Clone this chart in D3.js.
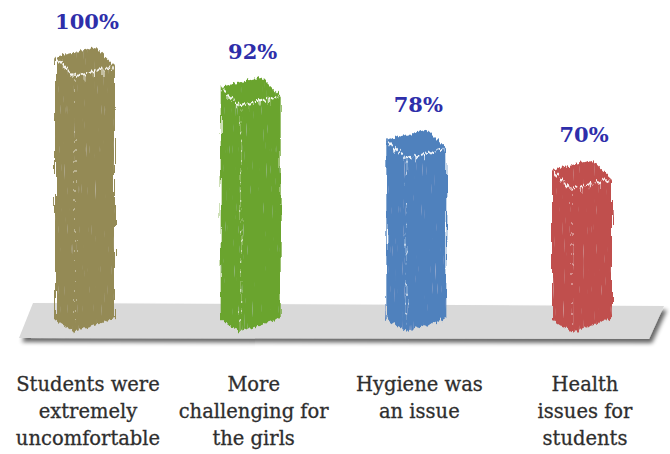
<!DOCTYPE html>
<html>
<head>
<meta charset="utf-8">
<script src="https://cdn.jsdelivr.net/npm/d3@7/dist/d3.min.js"></script>
<style>
  html, body { margin: 0; padding: 0; background: #fff; }
  svg { display: block; }
</style>
</head>
<body>
<div id="chart"></div>
<script>
// Survey responses shown as sketch-style 3D columns standing on a grey floor
const categories = [
  "Students were extremely uncomfortable",
  "More challenging for the girls",
  "Hygiene was an issue",
  "Health issues for students"
];
const categoryLines = [
  ["Students were", "extremely", "uncomfortable"],
  ["More", "challenging for", "the girls"],
  ["Hygiene was", "an issue"],
  ["Health", "issues for", "students"]
];
const values = [100, 92, 78, 70];
const valueLabels = ["100%", "92%", "78%", "70%"];
const palette = ["#948a54", "#6aa42e", "#4f81bd", "#c0504d"];

const W = 670, H = 454;
const svg = d3.select("#chart").append("svg")
  .attr("width", W).attr("height", H);

const defs = svg.append("defs");

// rough, streaky crayon look for the columns
const sketch = defs.append("filter").attr("id", "sketch")
  .attr("x", "-20%").attr("y", "-20%").attr("width", "140%").attr("height", "140%");
sketch.append("feTurbulence").attr("type", "fractalNoise")
  .attr("baseFrequency", "0.45 0.035").attr("numOctaves", 2).attr("seed", 7).attr("result", "noise");
sketch.append("feDisplacementMap").attr("in", "SourceGraphic").attr("in2", "noise")
  .attr("scale", 7).attr("xChannelSelector", "R").attr("yChannelSelector", "G").attr("result", "rough");
sketch.append("feTurbulence").attr("type", "fractalNoise")
  .attr("baseFrequency", "0.9 0.05").attr("numOctaves", 1).attr("seed", 2).attr("result", "grain");
sketch.append("feColorMatrix").attr("in", "grain").attr("type", "matrix")
  .attr("values", "0 0 0 0 1  0 0 0 0 1  0 0 0 0 1  0 0 0 1.3 -0.88").attr("result", "streaks");
sketch.append("feComposite").attr("in", "streaks").attr("in2", "rough").attr("operator", "in").attr("result", "streaksIn");
const merge = sketch.append("feMerge");
merge.append("feMergeNode").attr("in", "rough");
merge.append("feMergeNode").attr("in", "streaksIn");

// soft drop shadow under the floor
const shadow = defs.append("filter").attr("id", "floorShadow")
  .attr("x", "-10%").attr("y", "-30%").attr("width", "120%").attr("height", "180%");
shadow.append("feGaussianBlur").attr("in", "SourceAlpha").attr("stdDeviation", 2).attr("result", "b");
shadow.append("feOffset").attr("in", "b").attr("dx", 3).attr("dy", 4).attr("result", "o");
shadow.append("feComponentTransfer").attr("in", "o").attr("result", "s")
  .append("feFuncA").attr("type", "linear").attr("slope", 0.6);
const sm = shadow.append("feMerge");
sm.append("feMergeNode").attr("in", "s");
sm.append("feMergeNode").attr("in", "SourceGraphic");

// scales: x gives the front vertical edge of each column, y its top
const baseY = 332;
const x = d3.scalePoint().domain(categories).range([75, 572]);
const y = d3.scaleLinear().domain([32, 100]).range([baseY, 76]);

// box depth offsets (left face and right face)
const L = [-20, -19], R = [40, -10];

// floor slab
const floorTop = 303, floorBottom = 338;
svg.append("polygon")
  .attr("points", [[33, floorTop], [664, floorTop + 3], [649, floorBottom + 1], [19, floorBottom]].map(p => p.join(",")).join(" "))
  .attr("fill", "#d9d9d9")
  .attr("filter", "url(#floorShadow)");

const pts = a => a.map(p => p.join(",")).join(" ");
const drip = [3, 6, 2, 5, 4, 7, 3];

const bars = svg.append("g").selectAll("g.bar")
  .data(values)
  .join("g")
  .attr("class", "bar")
  .attr("filter", "url(#sketch)");

bars.each(function (v, i) {
  const g = d3.select(this);
  const fx = x(categories[i]);
  const ty = y(v);
  const col = d3.color(palette[i]).formatHex();
  const left = [[fx + L[0], baseY + L[1] + 6], [fx, baseY], [fx, ty], [fx + L[0], ty + L[1]]];
  const right = [[fx, baseY], [fx + R[0], baseY + R[1] - 4], [fx + R[0], ty + R[1]], [fx, ty]];
  const top = [[fx, ty], [fx + L[0], ty + L[1]], [fx + L[0] + R[0], ty + L[1] + R[1]], [fx + R[0], ty + R[1]]];
  g.append("polygon").attr("points", pts(left)).attr("fill", col);
  g.append("polygon").attr("points", pts(right)).attr("fill", col);
  g.append("polygon").attr("points", pts(top)).attr("fill", col);
  // pale highlight along the front edges of the top face
  g.append("polyline")
    .attr("points", pts([[fx + L[0] + 2, ty + L[1] + 2], [fx, ty], [fx + R[0] - 2, ty + R[1]]]))
    .attr("fill", "none").attr("stroke", "#fff").attr("stroke-width", 2)
    .attr("stroke-opacity", 0.9).attr("stroke-dasharray", "6 2");
  // short chalky drips hanging from that edge
  const ticks = d3.range(0.1, 1, 0.12);
  ticks.forEach((t, k) => {
    const onLeft = k % 2 === 0;
    const ex = onLeft ? fx + L[0] * t : fx + R[0] * t;
    const ey = onLeft ? ty + L[1] * t : ty + R[1] * t;
    g.append("line")
      .attr("x1", ex).attr("x2", ex).attr("y1", ey).attr("y2", ey + drip[k % drip.length])
      .attr("stroke", "#fff").attr("stroke-width", 1.2).attr("stroke-opacity", 0.75);
  });
  g.append("line")
    .attr("x1", fx).attr("x2", fx).attr("y1", ty + 4).attr("y2", baseY - 6)
    .attr("stroke", "#fff").attr("stroke-width", 1.3).attr("stroke-opacity", 0.55)
    .attr("stroke-dasharray", "2 8");
});

// value labels above each column
svg.append("g").attr("class", "values").selectAll("text")
  .data(values)
  .join("text")
  .attr("x", (d, i) => x(categories[i]) + 12)
  .attr("y", d => y(d) - 47)
  .attr("text-anchor", "middle")
  .attr("font-family", "'DejaVu Serif', serif")
  .attr("font-weight", "bold")
  .attr("font-size", 21)
  .attr("fill", "#2e2eaa")
  .text((d, i) => valueLabels[i]);

// category labels below the floor
const cat = svg.append("g").selectAll("text")
  .data(categories)
  .join("text")
  .attr("x", d => x(d) + 13)
  .attr("y", 391)
  .attr("text-anchor", "middle")
  .attr("font-family", "'DejaVu Serif', serif")
  .attr("font-size", 19.5)
  .attr("fill", "#2e2e2e")
  .attr("stroke", "#2e2e2e")
  .attr("stroke-width", 0.3);
cat.each(function (d, i) {
  d3.select(this).selectAll("tspan")
    .data(categoryLines[i])
    .join("tspan")
    .attr("x", x(d) + 13)
    .attr("dy", (t, j) => j === 0 ? 0 : 27)
    .text(t => t);
});
</script>
</body>
</html>
